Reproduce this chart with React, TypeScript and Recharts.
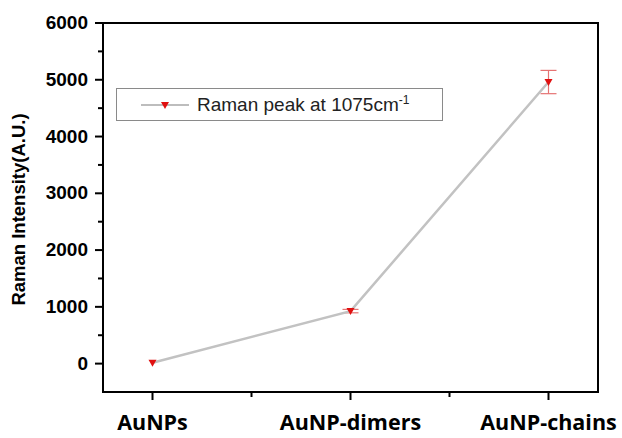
import React from 'react';
import { LineChart, Line, XAxis, YAxis, ErrorBar, Legend, ReferenceArea } from 'recharts';

const categories = ['AuNPs', 'AuNP-dimers', 'AuNP-chains'];
const intensity = [15, 925, 4960];
const errors = [0, 30, 205];
const xTicks = [0, 0.5, 1, 1.5, 2];
const yTicks = [0, 500, 1000, 1500, 2000, 2500, 3000, 3500, 4000, 4500, 5000, 5500, 6000];
const seriesName = 'Raman peak at 1075cm';

const data = categories.map((name, i) => ({ x: i, name, value: intensity[i], err: errors[i] }));

const AXIS_FONT = '"Liberation Sans", Arial, sans-serif';

const XTick = ({ x, y, payload }: any) => {
  const v = payload.value;
  const major = Number.isInteger(v);
  return (
    <g>
      <line x1={x} x2={x} y1={y} y2={y + (major ? 8 : 5)} stroke="#000" strokeWidth={2} />
      {major && (
        <text
          x={x}
          y={y + 38}
          textAnchor="middle"
          fontFamily='"Open Sans", sans-serif'
          fontWeight={700}
          fontSize={21.5}
          fill="#000"
        >
          {categories[v]}
        </text>
      )}
    </g>
  );
};

const YTick = ({ x, y, payload }: any) => {
  const v = payload.value;
  const major = v % 1000 === 0;
  return (
    <g>
      <line x1={x - (major ? 8 : 5)} x2={x} y1={y} y2={y} stroke="#000" strokeWidth={2} />
      {major && (
        <text
          x={x - 15}
          y={y}
          dy={6}
          textAnchor="end"
          fontFamily={AXIS_FONT}
          fontWeight={700}
          fontSize={19}
          fill="#000"
        >
          {v}
        </text>
      )}
    </g>
  );
};

const YLabel = ({ viewBox }: any) => {
  const cx = viewBox.x + 18;
  const cy = viewBox.y + viewBox.height / 2 + 2;
  return (
    <text
      x={cx}
      y={cy}
      transform={`rotate(-90 ${cx} ${cy})`}
      textAnchor="middle"
      dominantBaseline="central"
      fontFamily={AXIS_FONT}
      fontWeight={700}
      fontSize={18.5}
      fill="#000"
    >
      Raman Intensity(A.U.)
    </text>
  );
};

const TriangleDot = ({ cx, cy }: any) => {
  if (cx == null || cy == null) return null;
  return <polygon points={`${cx - 4},${cy - 3} ${cx + 4},${cy - 3} ${cx},${cy + 4}`} fill="#e01010" />;
};

const LegendBox = () => (
  <div
    style={{
      width: 327,
      height: 33,
      boxSizing: 'border-box',
      border: '1px solid #8a8a8a',
      display: 'flex',
      alignItems: 'center',
      background: '#fff',
    }}
  >
    <svg width={80} height={20} style={{ flex: 'none' }}>
      <line x1={24} x2={72} y1={10} y2={10} stroke="#bdbdbd" strokeWidth={2} />
      <polygon points="44,7 52,7 48,14" fill="#e01010" />
    </svg>
    <span style={{ fontFamily: AXIS_FONT, fontSize: 19, color: '#222', whiteSpace: 'nowrap' }}>
      {seriesName}
      <sup style={{ fontSize: 12 }}>-1</sup>
    </span>
  </div>
);

export default function App() {
  return (
    <div style={{ position: 'absolute', left: 0, top: 0, background: '#fff' }}>
      <LineChart width={622} height={438} data={data} margin={{ top: 23, right: 24, bottom: 16, left: 0 }}>
        <ReferenceArea x1={-0.25} x2={2.25} y1={-500} y2={6000} stroke="#000" strokeWidth={2} fill="none" fillOpacity={0} ifOverflow="visible" />
        <XAxis
          type="number"
          dataKey="x"
          domain={[-0.25, 2.25]}
          ticks={xTicks}
          height={30}
          tickSize={0}
          tickMargin={0}
          tickLine={false}
          tick={<XTick />}
          axisLine={{ stroke: '#000', strokeWidth: 2 }}
          interval={0}
          allowDataOverflow
        />
        <YAxis
          type="number"
          domain={[-500, 6000]}
          ticks={yTicks}
          width={103}
          tickSize={0}
          tickMargin={0}
          tickLine={false}
          tick={<YTick />}
          axisLine={{ stroke: '#000', strokeWidth: 2 }}
          interval={0}
          allowDataOverflow
          label={<YLabel />}
        />
        <Legend
          layout="horizontal"
          verticalAlign="middle"
          align="center"
          content={<LegendBox />}
          wrapperStyle={{ left: 116, top: 88, width: 327, height: 33 }}
        />
        <Line
          type="linear"
          dataKey="value"
          name={seriesName}
          stroke="#c2c2c2"
          strokeWidth={2.5}
          dot={<TriangleDot />}
          activeDot={false}
          isAnimationActive={false}
        >
          <ErrorBar dataKey="err" direction="y" width={8} stroke="#e57373" strokeWidth={1.2} />
        </Line>
      </LineChart>
    </div>
  );
}
